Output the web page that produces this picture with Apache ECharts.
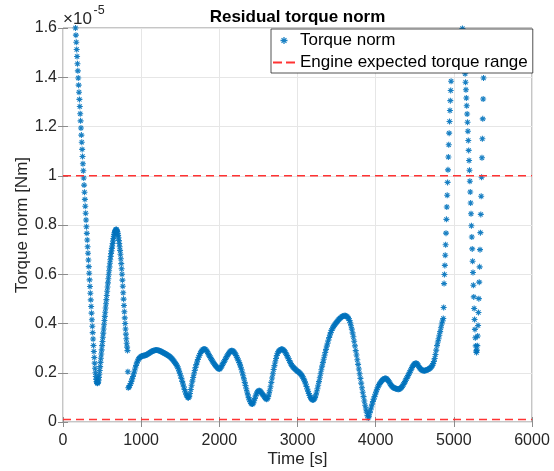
<!DOCTYPE html>
<html>
<head>
<meta charset="utf-8">
<title>Residual torque norm</title>
<script src="https://cdn.jsdelivr.net/npm/echarts@6/dist/echarts.min.js"></script>
<style>
  html, body { margin: 0; padding: 0; background: #ffffff; }
  #chart { width: 554px; height: 471px; }
</style>
</head>
<body>
<div id="chart"></div>
<script>
// Residual torque norm, values in units of 1e-5 Nm.

// Start-up transient, sampled every 5 s from t = 160 s.
const earlyStart = 160;
const earlyStep = 5;
const earlyTorque = [
  1.600, 1.571, 1.542, 1.513, 1.484, 1.455, 1.426, 1.397, 1.368, 1.339,
  1.310, 1.281, 1.252, 1.223, 1.194, 1.165, 1.136, 1.107, 1.078, 1.049,
  1.020, 0.991, 0.962, 0.933, 0.904, 0.876, 0.848, 0.820, 0.793, 0.766,
  0.739, 0.712, 0.685, 0.658, 0.631, 0.604, 0.577, 0.550, 0.523, 0.496,
  0.469, 0.442, 0.415, 0.389, 0.363, 0.337, 0.311, 0.286, 0.262, 0.239,
  0.218, 0.200, 0.185, 0.173, 0.164, 0.159, 0.157,
  0.158, 0.162, 0.170, 0.181, 0.194, 0.209, 0.225, 0.242, 0.259, 0.276,
  0.293, 0.310, 0.327, 0.344, 0.361, 0.378, 0.395, 0.412, 0.429, 0.446,
  0.463, 0.480, 0.497, 0.514, 0.531, 0.548, 0.565, 0.582, 0.598, 0.614,
  0.630, 0.645, 0.659, 0.672, 0.684, 0.695, 0.705, 0.715, 0.725, 0.735,
  0.745, 0.754, 0.762, 0.769, 0.774, 0.778, 0.781, 0.782,
  0.781, 0.778, 0.773, 0.766, 0.758, 0.748, 0.737, 0.725, 0.712, 0.697,
  0.681, 0.663, 0.643, 0.622, 0.600, 0.576, 0.551, 0.525, 0.499, 0.473,
  0.448, 0.423, 0.400, 0.378, 0.357, 0.338, 0.320, 0.304, 0.290, 0.204
];

// Cruise phase, sampled every 10 s from t = 835 s.
const cruiseStart = 835;
const cruiseStep = 10;
const cruiseTorque = [
  0.139, 0.142, 0.148, 0.156, 0.165, 0.175, 0.185, 0.196, 0.207, 0.219,
  0.230, 0.240, 0.248, 0.255, 0.259, 0.262, 0.265, 0.267, 0.268, 0.269,
  0.270, 0.270, 0.271, 0.272, 0.274, 0.276, 0.278, 0.280, 0.282, 0.284,
  0.286, 0.288, 0.289, 0.290, 0.291, 0.292, 0.292, 0.292, 0.291, 0.290,
  0.289, 0.288, 0.286, 0.284, 0.283, 0.281, 0.279, 0.278, 0.276, 0.274,
  0.272, 0.270, 0.268, 0.266, 0.263, 0.260, 0.257, 0.253, 0.249, 0.245,
  0.240, 0.235, 0.230, 0.224, 0.216, 0.207, 0.198, 0.188, 0.177, 0.165,
  0.154, 0.143, 0.132, 0.122, 0.113, 0.106, 0.100, 0.098, 0.103, 0.116,
  0.132, 0.149, 0.166, 0.181, 0.195, 0.209, 0.221, 0.233, 0.244, 0.254,
  0.263, 0.271, 0.278, 0.284, 0.289, 0.293, 0.295, 0.296, 0.296, 0.294,
  0.290, 0.285, 0.279, 0.273, 0.268, 0.262, 0.257, 0.251, 0.246, 0.241,
  0.236, 0.231, 0.227, 0.224, 0.220, 0.217, 0.215, 0.215, 0.219, 0.224,
  0.230, 0.236, 0.242, 0.248, 0.254, 0.260, 0.266, 0.271, 0.276, 0.281,
  0.285, 0.288, 0.289, 0.289, 0.288, 0.285, 0.281, 0.276, 0.270, 0.263,
  0.256, 0.249, 0.241, 0.232, 0.222, 0.212, 0.200, 0.188, 0.175, 0.161,
  0.148, 0.135, 0.122, 0.110, 0.099, 0.090, 0.082, 0.076, 0.073, 0.073,
  0.077, 0.086, 0.096, 0.106, 0.115, 0.121, 0.125, 0.127, 0.127, 0.125,
  0.121, 0.116, 0.112, 0.108, 0.103, 0.098, 0.094, 0.092, 0.095, 0.103,
  0.114, 0.127, 0.143, 0.161, 0.179, 0.196, 0.213, 0.229, 0.244, 0.258,
  0.270, 0.279, 0.285, 0.289, 0.292, 0.294, 0.295, 0.295, 0.294, 0.291,
  0.287, 0.282, 0.276, 0.270, 0.264, 0.257, 0.250, 0.243, 0.237, 0.231,
  0.226, 0.222, 0.219, 0.216, 0.213, 0.210, 0.207, 0.205, 0.203, 0.200,
  0.197, 0.193, 0.189, 0.184, 0.178, 0.171, 0.163, 0.154, 0.144, 0.134,
  0.125, 0.116, 0.108, 0.100, 0.095, 0.091, 0.089, 0.090, 0.094, 0.100,
  0.110, 0.122, 0.135, 0.149, 0.164, 0.180, 0.196, 0.212, 0.227, 0.241,
  0.255, 0.269, 0.282, 0.295, 0.308, 0.320, 0.332, 0.343, 0.353, 0.363,
  0.372, 0.379, 0.385, 0.390, 0.395, 0.399, 0.403, 0.407, 0.411, 0.415,
  0.418, 0.421, 0.424, 0.427, 0.429, 0.430, 0.431, 0.431, 0.431, 0.430,
  0.428, 0.424, 0.419, 0.412, 0.403, 0.391, 0.377, 0.362, 0.346, 0.328,
  0.309, 0.290, 0.272, 0.253, 0.234, 0.215, 0.196, 0.177, 0.158, 0.139,
  0.121, 0.103, 0.085, 0.068, 0.053, 0.040, 0.026, 0.016, 0.024, 0.038,
  0.050, 0.061, 0.072, 0.083, 0.093, 0.103, 0.113, 0.122, 0.131, 0.139,
  0.146, 0.152, 0.157, 0.162, 0.166, 0.170, 0.173, 0.175, 0.177, 0.177,
  0.177, 0.174, 0.170, 0.166, 0.161, 0.155, 0.150, 0.146, 0.143, 0.140,
  0.138, 0.137, 0.136, 0.135, 0.134, 0.133, 0.133, 0.134, 0.136, 0.139,
  0.142, 0.147, 0.152, 0.158, 0.164, 0.170, 0.177, 0.183, 0.189, 0.195,
  0.202, 0.208, 0.215, 0.221, 0.227, 0.232, 0.236, 0.238, 0.239, 0.238,
  0.234, 0.229, 0.223, 0.218, 0.215, 0.212, 0.210, 0.209, 0.208, 0.208,
  0.209, 0.210, 0.211, 0.213, 0.214, 0.216, 0.218, 0.221, 0.225, 0.230,
  0.237, 0.246, 0.258, 0.274, 0.292, 0.310, 0.325, 0.338, 0.352, 0.367,
  0.383, 0.398, 0.410, 0.420
];

// Shut-down climb, sampled every 5 s from t = 4870 s.
const climbStart = 4870;
const climbStep = 5;
const climbTorque = [
  0.465, 0.562, 0.599, 0.636, 0.677, 0.720, 0.767, 0.823, 0.873, 0.921,
  0.973, 1.024, 1.076, 1.126, 1.173, 1.220, 1.265, 1.305, 1.346, 1.384
];

// Final swing, sampled every 5 s from t = 5110 s (null = not recorded).
const finalStart = 5110;
const finalStep = 5;
const finalTorque = [
  1.598, null, null, null, null, null, null,
  1.414, 1.380, 1.349, 1.316, 1.284, 1.251, 1.217, 1.181, 1.143, 1.103,
  1.062, 1.022, 0.978, 0.934, 0.889, 0.846, 0.797, 0.751, 0.703, 0.653,
  0.607, 0.555, 0.508, 0.461, 0.416, 0.376, 0.342, 0.309, 0.288, 0.282,
  0.292, 0.310, 0.349, 0.392, 0.445, 0.501, 0.568, 0.630, 0.700, 0.769,
  0.843, 0.917, 0.994, 1.073, 1.150, 1.231, 1.312, 1.397
];

// Expected engine torque band limits (same 1e-5 units).
const torqueRangeLimits = [1.0, 0.01];

// Axis ticks.
const timeTicks = [0, 1000, 2000, 3000, 4000, 5000, 6000];
const torqueTicks = [0, 0.2, 0.4, 0.6, 0.8, 1.0, 1.2, 1.4, 1.6];
const torqueExponent = -5;

const FONT = '"Liberation Sans", Arial, Helvetica, sans-serif';
const INK = '#262626';
const FRAME = '#8c8c8c';
const GRID = '#e6e6e6';
const BLUE = '#0072BD';
const RED = '#ff3333';

// Asterisk marker built from four filled bars.
const ASTERISK = 'path://M4.1 0L5.9 0L5.9 10L4.1 10Z M0 4.1L10 4.1L10 5.9L0 5.9Z ' +
  'M0.9 2.1L2.1 0.9L9.1 7.9L7.9 9.1Z M7.9 0.9L9.1 2.1L2.1 9.1L0.9 7.9Z';
// Two-dash swatch for the torque band legend entry.
const DASH_SWATCH = 'path://M0 0L9 0L9 2L0 2Z M13 0L22 0L22 2L13 2Z';

const segments = [
  [earlyStart, earlyStep, earlyTorque],
  [cruiseStart, cruiseStep, cruiseTorque],
  [climbStart, climbStep, climbTorque],
  [finalStart, finalStep, finalTorque]
];
const torquePoints = [];
segments.forEach(([t0, dt, values]) => {
  values.forEach((v, i) => {
    if (v !== null) torquePoints.push([t0 + i * dt, v]);
  });
});

const tMin = timeTicks[0];
const tMax = timeTicks[timeTicks.length - 1];
const vMin = torqueTicks[0];
const vMax = torqueTicks[torqueTicks.length - 1];

const fmtTorque = v => String(Number(v.toFixed(1)));
const fmtTime = v => String(Math.round(v));

function axisCommon() {
  return {
    type: 'value',
    axisLine: { show: false },
    axisTick: { show: true, inside: true, length: 5, lineStyle: { color: FRAME, width: 1 } },
    splitLine: { show: false },
    axisLabel: { show: false }
  };
}

const rangeSeries = torqueRangeLimits.map(level => ({
  name: 'Engine expected torque range',
  type: 'line',
  xAxisIndex: 0,
  yAxisIndex: 0,
  data: [[tMin, level], [tMax, level]],
  symbol: 'none',
  showSymbol: false,
  silent: true,
  lineStyle: { color: RED, width: 1.6, type: [8, 5] },
  itemStyle: { color: RED },
  z: 3
}));

const chart = echarts.init(document.getElementById('chart'), null, { renderer: 'canvas' });

chart.setOption({
  animation: false,
  backgroundColor: '#ffffff',
  textStyle: { fontFamily: FONT },
  title: {
    text: 'Residual torque norm',
    left: 297.5,
    top: 9,
    padding: 0,
    textAlign: 'center',
    textStyle: { fontFamily: FONT, fontSize: 17, fontWeight: 'bold', color: '#000000' }
  },
  grid: {
    left: 63, right: 22, top: 28, bottom: 49,
    show: true,
    borderColor: FRAME,
    borderWidth: 1,
    backgroundColor: 'transparent',
    outerBoundsMode: 'none',
    containLabel: false
  },
  legend: {
    orient: 'vertical',
    left: 271,
    top: 29,
    padding: [1.5, 5, 0.5, 2],
    itemGap: 2,
    itemWidth: 22,
    itemHeight: 7,
    backgroundColor: '#ffffff',
    borderColor: INK,
    borderWidth: 0.8,
    borderRadius: 0,
    selectedMode: false,
    textStyle: { fontFamily: FONT, fontSize: 17, color: '#000000', lineHeight: 20 },
    data: [
      { name: 'Torque norm', icon: ASTERISK },
      { name: 'Engine expected torque range', icon: DASH_SWATCH, itemStyle: { color: RED } }
    ],
    z: 10
  },
  xAxis: [
    Object.assign(axisCommon(), {
      position: 'bottom',
      min: tMin, max: tMax, interval: timeTicks[1] - timeTicks[0],
      axisLabel: { show: true, fontFamily: FONT, fontSize: 16, color: INK, margin: 11, formatter: fmtTime },
      splitLine: { show: true, lineStyle: { color: GRID, width: 1 } },
      name: 'Time [s]',
      nameLocation: 'middle',
      nameGap: 29,
      nameMoveOverlap: false,
      nameTextStyle: { fontFamily: FONT, fontSize: 17, color: INK }
    }),
    Object.assign(axisCommon(), {
      position: 'top',
      min: tMin, max: tMax, interval: timeTicks[1] - timeTicks[0]
    })
  ],
  yAxis: [
    Object.assign(axisCommon(), {
      position: 'left',
      min: vMin, max: vMax, interval: torqueTicks[1] - torqueTicks[0],
      axisLabel: { show: true, fontFamily: FONT, fontSize: 16, color: INK, margin: 6, formatter: fmtTorque },
      splitLine: { show: true, lineStyle: { color: GRID, width: 1 } },
      name: 'Torque norm [Nm]',
      nameLocation: 'middle',
      nameGap: 32,
      nameMoveOverlap: false,
      nameRotate: 90,
      nameTextStyle: { fontFamily: FONT, fontSize: 17, color: INK }
    }),
    Object.assign(axisCommon(), {
      position: 'right',
      min: vMin, max: vMax, interval: torqueTicks[1] - torqueTicks[0]
    })
  ],
  graphic: [
    {
      type: 'text',
      style: { text: '×10', x: 63, y: 19.5, verticalAlign: 'middle', align: 'left',
               font: '17px ' + FONT, fill: INK }
    },
    {
      type: 'text',
      style: { text: String(torqueExponent), x: 93.5, y: 11, verticalAlign: 'middle', align: 'left',
               font: '12.5px ' + FONT, fill: INK }
    }
  ],
  series: [
    {
      name: 'Torque norm',
      type: 'scatter',
      xAxisIndex: 0,
      yAxisIndex: 0,
      data: torquePoints,
      symbol: ASTERISK,
      symbolSize: 6,
      itemStyle: { color: BLUE, opacity: 0.9 },
      silent: true,
      z: 2
    }
  ].concat(rangeSeries)
});
</script>
</body>
</html>
